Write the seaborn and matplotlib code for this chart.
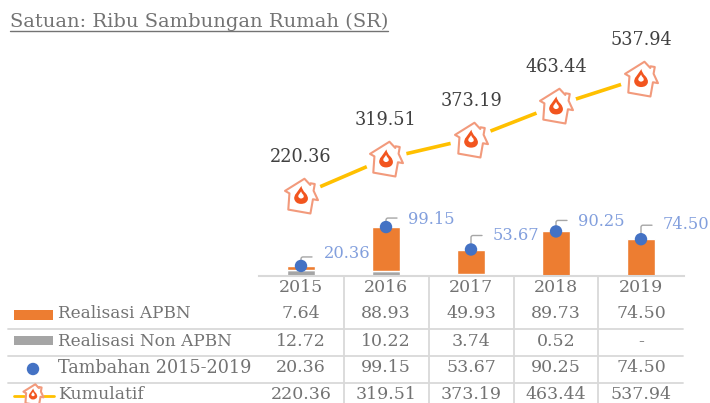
import numpy as np
import seaborn as sns
import matplotlib.pyplot as plt
from matplotlib.path import Path as MPath
from matplotlib.patches import Rectangle

years = ["2015", "2016", "2017", "2018", "2019"]
realisasi_apbn = [7.64, 88.93, 49.93, 89.73, 74.50]
realisasi_non_apbn = [12.72, 10.22, 3.74, 0.52, 0]
tambahan = [20.36, 99.15, 53.67, 90.25, 74.50]
kumulatif = [220.36, 319.51, 373.19, 463.44, 537.94]
row_names = ["Realisasi APBN", "Realisasi Non APBN", "Tambahan 2015-2019", "Kumulatif"]

ORANGE = "#ED7D31"
GREY = "#A5A5A5"
BLUE = "#4472C4"
YELLOW = "#FFC000"
TEXT = "#737373"
LABEL = "#829FDD"
RULE = "#D9D9D9"

sns.set_theme(style="white")
plt.rcParams["font.family"] = ["DejaVu Serif", "DejaVu Sans"]

W, H = 710, 403
fig = plt.figure(figsize=(W / 100, H / 100), dpi=100)

# icon shapes for the cumulative series, house is drawn a bit tilted
house_pts = np.array([(0.0, 1.0), (-1.0, 0.1), (-0.72, 0.0), (-0.62, -0.95), (0.7, -0.95),
                      (0.7, -0.1), (1.0, -0.1), (0.65, 0.4), (0.65, 0.8), (0.4, 0.8),
                      (0.4, 0.7), (0.0, 1.0)])
tilt = np.radians(-10)
rot = np.array([[np.cos(tilt), -np.sin(tilt)], [np.sin(tilt), np.cos(tilt)]])
house_marker = MPath(house_pts @ rot.T, closed=True)
flame_marker = MPath(
    [(0.05, 1.0),
     (0.1, 0.55), (0.5, 0.2),
     (0.85, -0.2), (0.75, -0.55),
     (0.6, -1.0), (0.0, -1.0),
     (-0.6, -1.0), (-0.75, -0.45),
     (-0.8, -0.1), (-0.55, 0.15),
     (-0.3, 0.5), (0.05, 1.0)],
    [MPath.MOVETO] + [MPath.CURVE3] * 12,
)


def draw_house(axis, xs, ys, size):
    sns.scatterplot(x=xs, y=ys, ax=axis, marker=house_marker, s=(size * 0.72) ** 2,
                    facecolor="white", edgecolor="#F29A7C", linewidth=1.5, zorder=5, clip_on=False)
    sns.scatterplot(x=xs, y=ys, ax=axis, marker=flame_marker, s=(size * 0.5 * 0.72) ** 2,
                    color="#F2551F", edgecolor="none", zorder=6, clip_on=False)
    sns.scatterplot(x=xs, y=ys, ax=axis, marker=flame_marker, s=(size * 0.2 * 0.72) ** 2,
                    color="white", edgecolor="none", zorder=7, clip_on=False)


# Bars and dots
ax = fig.add_axes([258.5 / W, (H - 276) / H, 425 / W, 276 / H])
ax.patch.set_alpha(0)
sns.barplot(x=years, y=realisasi_non_apbn, color=GREY, width=0.32, saturation=1, ax=ax)
sns.barplot(x=years, y=realisasi_apbn, bottom=realisasi_non_apbn, color=ORANGE,
            width=0.32, saturation=1, ax=ax)
sns.scatterplot(x=years, y=tambahan, color=BLUE, s=80, edgecolor="none", zorder=4, ax=ax)
ax.set_xlim(-0.5, 4.5)
ax.set_ylim(0, 559)

leader_up = [9, 9, 14, 11, 14]
label_shift = [(46, 12), (45, 8), (45, 14), (45, 10), (45, 15)]
for i, v in enumerate(tambahan):
    ax.annotate("", xy=(i, v), xytext=(11, leader_up[i]), textcoords="offset pixels",
                arrowprops=dict(arrowstyle="-", color="#A6A6A6", lw=1,
                                connectionstyle="angle,angleA=0,angleB=90,rad=2",
                                shrinkA=0, shrinkB=0))
    ax.annotate(f"{v:.2f}", xy=(i, v), xytext=label_shift[i], textcoords="offset pixels",
                ha="center", va="center", color=LABEL, fontsize=11.7)

ax.set_xlabel("")
ax.set_ylabel("")
ax.set_xticks([])
ax.set_yticks([])
sns.despine(ax=ax, left=True, top=True, right=True)
ax.spines["bottom"].set_color(RULE)
ax.spines["bottom"].set_linewidth(1.5)

# Cumulative line with its own scale
ax2 = ax.twinx()
ax2.patch.set_alpha(0)
sns.lineplot(x=years, y=kumulatif, color=YELLOW, linewidth=2.6, errorbar=None, sort=False, ax=ax2)
sns.scatterplot(x=years, y=kumulatif, color="white", s=(42 * 0.72) ** 2, edgecolor="none",
                zorder=3, ax=ax2)
draw_house(ax2, years, kumulatif, 36)
ax2.set_xlim(-0.5, 4.5)
ax2.set_ylim(0, 750)
ax2.set_xlabel("")
ax2.set_ylabel("")
ax2.set_yticks([])
ax2.set_xticks([])
for s in ax2.spines.values():
    s.set_visible(False)
for i, v in enumerate(kumulatif):
    ax2.annotate(f"{v:.2f}", xy=(i, v), xytext=(0, 38), textcoords="offset pixels",
                 ha="center", va="center", color="#404040", fontsize=12.7, zorder=8)

# Table and title, drawn in pixel coordinates
tb = fig.add_axes([0, 0, 1, 1])
tb.set_xlim(0, W)
tb.set_ylim(H, 0)
tb.axis("off")
tb.patch.set_alpha(0)

tb.text(10, 21.5, "Satuan: Ribu Sambungan Rumah (SR)", color=TEXT, fontsize=14, va="center", ha="left")
tb.plot([10, 388], [31, 31], color=TEXT, lw=1)

for y in [329, 355.5, 382.5]:
    tb.plot([8, 683], [y, y], color=RULE, lw=1.3)
for x in [344, 429, 514, 598]:
    tb.plot([x, x], [276, H], color=RULE, lw=1.3)

centers = [301, 386, 471, 556, 641]
row_y = [314, 342, 368, 394.5]
name_sizes = [12.2, 12.2, 12.7, 12.4]
for cx, yr in zip(centers, years):
    tb.text(cx, 288, yr, color=TEXT, fontsize=12.5, ha="center", va="center")
for cx, a, b, c, d in zip(centers, realisasi_apbn, realisasi_non_apbn, tambahan, kumulatif):
    cells = [f"{a:.2f}", f"{b:.2f}" if b else "-", f"{c:.2f}", f"{d:.2f}"]
    for y, cell in zip(row_y, cells):
        tb.text(cx, y, cell, color=TEXT, fontsize=12.5, ha="center", va="center")
for y, name, fs in zip(row_y, row_names, name_sizes):
    tb.text(58, y, name, color=TEXT, fontsize=fs, ha="left", va="center")

# Legend keys
tb.add_patch(Rectangle((14, 310), 39, 10, color=ORANGE, lw=0))
tb.add_patch(Rectangle((14, 336), 39, 9, color=GREY, lw=0))
tb.scatter([33], [369], color=BLUE, s=80, edgecolor="none")
tb.plot([14, 24], [396, 396], color=YELLOW, lw=2)
tb.plot([44, 54], [396, 396], color=YELLOW, lw=2)
draw_house(tb, np.array([33]), np.array([394]), 22)
tb.set_xlim(0, W)
tb.set_ylim(H, 0)

fig.savefig("out.png", dpi=100)
